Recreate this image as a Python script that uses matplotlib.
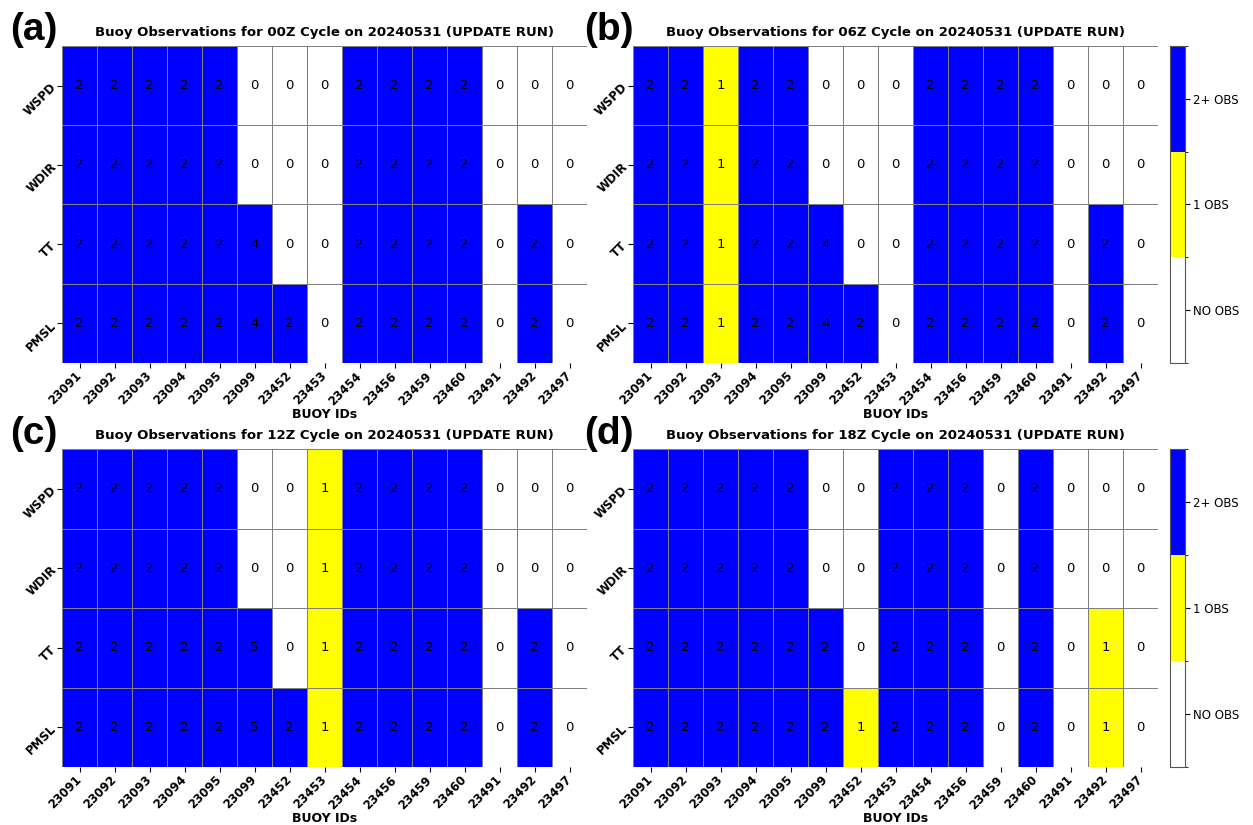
import numpy as np
import matplotlib
matplotlib.use("Agg")
import matplotlib.pyplot as plt
from matplotlib.colors import ListedColormap, BoundaryNorm

# Buoy IDs and observed variables
buoy_ids = ["23091", "23092", "23093", "23094", "23095", "23099", "23452", "23453",
            "23454", "23456", "23459", "23460", "23491", "23492", "23497"]
variables = ["WSPD", "WDIR", "TT", "PMSL"]
date_str = "20240531"

# Observation counts per cycle (rows = variables, cols = buoys)
obs_00z = [
    [2, 2, 2, 2, 2, 0, 0, 0, 2, 2, 2, 2, 0, 0, 0],
    [2, 2, 2, 2, 2, 0, 0, 0, 2, 2, 2, 2, 0, 0, 0],
    [2, 2, 2, 2, 2, 4, 0, 0, 2, 2, 2, 2, 0, 2, 0],
    [2, 2, 2, 2, 2, 4, 2, 0, 2, 2, 2, 2, 0, 2, 0],
]
obs_06z = [
    [2, 2, 1, 2, 2, 0, 0, 0, 2, 2, 2, 2, 0, 0, 0],
    [2, 2, 1, 2, 2, 0, 0, 0, 2, 2, 2, 2, 0, 0, 0],
    [2, 2, 1, 2, 2, 4, 0, 0, 2, 2, 2, 2, 0, 2, 0],
    [2, 2, 1, 2, 2, 4, 2, 0, 2, 2, 2, 2, 0, 2, 0],
]
obs_12z = [
    [2, 2, 2, 2, 2, 0, 0, 1, 2, 2, 2, 2, 0, 0, 0],
    [2, 2, 2, 2, 2, 0, 0, 1, 2, 2, 2, 2, 0, 0, 0],
    [2, 2, 2, 2, 2, 5, 0, 1, 2, 2, 2, 2, 0, 2, 0],
    [2, 2, 2, 2, 2, 5, 2, 1, 2, 2, 2, 2, 0, 2, 0],
]
obs_18z = [
    [2, 2, 2, 2, 2, 0, 0, 2, 2, 2, 0, 2, 0, 0, 0],
    [2, 2, 2, 2, 2, 0, 0, 2, 2, 2, 0, 2, 0, 0, 0],
    [2, 2, 2, 2, 2, 2, 0, 2, 2, 2, 0, 2, 0, 1, 0],
    [2, 2, 2, 2, 2, 2, 1, 2, 2, 2, 0, 2, 0, 1, 0],
]
cycles = ["00Z", "06Z", "12Z", "18Z"]
panel_tags = ["(a)", "(b)", "(c)", "(d)"]
all_obs = [obs_00z, obs_06z, obs_12z, obs_18z]
cbar_labels = ["NO OBS", "1 OBS", "2+ OBS"]

cmap = ListedColormap(["white", "yellow", "blue"])
norm = BoundaryNorm([-0.5, 0.5, 1.5, 2.5], cmap.N)

W, H = 1253, 825
fig = plt.figure(figsize=(W / 100, H / 100), dpi=100)

def px_box(x0, y0, x1, y1):
    return [x0 / W, 1 - y1 / H, (x1 - x0) / W, (y1 - y0) / H]

# pixel boxes for each panel: (x0, y0, x1, y1)
boxes = [(62, 46, 587, 363), (633, 46, 1158, 363),
         (62, 449, 587, 767), (633, 449, 1158, 767)]
cbar_boxes = {1: (1170, 46, 1185, 363), 3: (1170, 449, 1185, 767)}
tag_pos = [(10, 12), (584, 12), (10, 416), (584, 416)]


def draw_panel(ax, obs, cycle):
    data = np.array(obs)
    colored = np.clip(data, 0, 2)
    mesh = ax.pcolormesh(colored, cmap=cmap, norm=norm,
                         edgecolors="gray", linewidth=0.5)
    ax.set_ylim(len(variables), 0)
    ax.set_xlim(0, len(buoy_ids))
    for i in range(data.shape[0]):
        for j in range(data.shape[1]):
            ax.text(j + 0.5, i + 0.5, str(data[i, j]), ha="center", va="center",
                    fontsize=9.5, color="black")
    ax.set_xticks(np.arange(len(buoy_ids)) + 0.5)
    ax.set_xticklabels(buoy_ids, rotation=45, fontsize=8.5, fontweight="bold",
                       ha="right", va="center", rotation_mode="anchor")
    ax.set_yticks(np.arange(len(variables)) + 0.5)
    ax.set_yticklabels(variables, rotation=45, fontsize=8.5, fontweight="bold",
                       ha="right", va="center", rotation_mode="anchor")
    ax.tick_params(axis="x", pad=4.5)
    ax.tick_params(axis="y", pad=2)
    for s in ax.spines.values():
        s.set_visible(False)
    ax.set_xlabel("BUOY IDs", fontsize=9, fontweight="bold", labelpad=0)
    ax.set_title(f"Buoy Observations for {cycle} Cycle on {date_str} (UPDATE RUN)",
                 fontsize=9.5, fontweight="bold", pad=7)
    return mesh


for k in range(4):
    ax = fig.add_axes(px_box(*boxes[k]))
    mesh = draw_panel(ax, all_obs[k], cycles[k])
    if k in cbar_boxes:
        cax = fig.add_axes(px_box(*cbar_boxes[k]))
        cb = fig.colorbar(mesh, cax=cax, ticks=[0, 1, 2])
        cb.ax.set_yticklabels(cbar_labels, fontsize=8.5)
        cb.ax.tick_params(pad=2)
        cb.outline.set_edgecolor("#555555")
    tx, ty = tag_pos[k]
    fig.text(tx / W, 1 - ty / H, panel_tags[k], fontsize=28, fontweight="bold",
             family="Liberation Sans", ha="left", va="top")

fig.savefig("out.png", dpi=100)
